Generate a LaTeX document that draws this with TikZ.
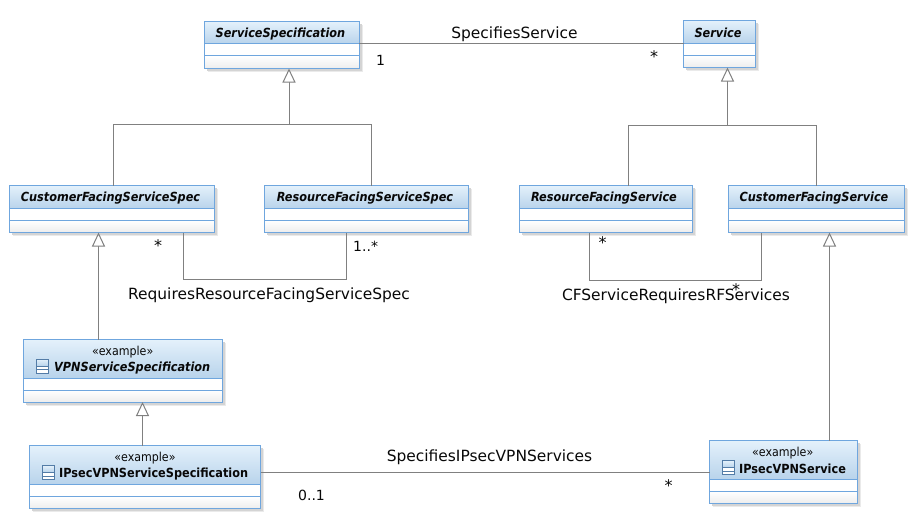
\documentclass[tikz,border=0pt]{standalone}
\usepackage{fontspec}
\setmainfont{DejaVu Sans}
\newfontfamily\condfont{DejaVu Sans Condensed}
\usetikzlibrary{arrows.meta,calc}
\definecolor{umlblue}{HTML}{6FA6DE}
\definecolor{umlhdrtop}{HTML}{E4F1FB}
\definecolor{umlhdrbot}{HTML}{B8D3EB}
\definecolor{umlgrey}{HTML}{808080}
\definecolor{umlshadow}{HTML}{D4D4D4}
\definecolor{umlshadowb}{HTML}{EAEAEA}
\definecolor{umltext}{HTML}{080808}
\tikzset{
  conn/.style={draw=umlgrey,line width=1pt},
  gen/.style={conn,-{Triangle[open,length=14pt,width=13pt,fill=white]}},
  classbox/.style={draw=umlblue,line width=1pt,inner sep=0pt,outer sep=0pt,anchor=north west},
  classname/.style={inner sep=0pt,text=umltext,font=\condfont\fontsize{12.55}{14}\selectfont\bfseries},
  absname/.style={classname,font=\condfont\fontsize{12.55}{14}\selectfont\bfseries\itshape},
  stereo/.style={inner sep=0pt,text=umltext,font=\condfont\fontsize{12.3}{14}\selectfont},
  assoc/.style={inner sep=0pt,text=umltext,font=\fontsize{15.45}{18}\selectfont},
  mult/.style={inner sep=0pt,text=umltext,font=\fontsize{14}{16}\selectfont},
  star/.style={inner sep=0pt,text=umltext,font=\fontsize{16}{18}\selectfont},
}
% id, x1, y1, x2, y2, header bottom
\newcommand{\umlclassbox}[6]{%
  \fill[umlshadowb] (#2+3.5,#3+3.5) rectangle (#4+3.5,#5+3.5);
  \fill[umlshadow] (#2+2.5,#3+2.5) rectangle (#4+2.5,#5+2.5);
  \fill[white] (#2,#3) rectangle (#4,#5);
  \shade[top color=umlhdrtop,bottom color=umlhdrbot] (#2,#3) rectangle (#4,#6);
  \shade[top color=white,bottom color=black!7] (#2,#6+12) rectangle (#4,#5);
  \draw[umlblue,line width=1pt] (#2,#6) -- (#4,#6) (#2,#6+12) -- (#4,#6+12);
  \pgfmathsetmacro{\umlw}{#4-#2}\pgfmathsetmacro{\umlh}{#5-#3}%
  \node[classbox,minimum width=\umlw pt,minimum height=\umlh pt] (#1) at (#2,#3) {};
}
% x, y of top-left
\newcommand{\umlicon}[2]{%
  \fill[white] (#1,#2) rectangle (#1+12,#2+14);
  \shade[top color=umlhdrtop,bottom color=umlhdrbot] (#1,#2) rectangle (#1+12,#2+7);
  \draw[umlblue!75!black,line width=.9pt] (#1,#2) rectangle (#1+12,#2+14) (#1,#2+7) -- (#1+12,#2+7) (#1,#2+10.5) -- (#1+12,#2+10.5);
}
\begin{document}
\begin{tikzpicture}[x=1pt,y=-1pt]
\useasboundingbox (0,0) rectangle (917,527);
\fill[white] (0,0) rectangle (917,527);

\umlclassbox{ss}{204.5}{21.5}{359}{68.5}{44}
\umlclassbox{svc}{683.5}{20.5}{755.5}{67.5}{43.5}
\umlclassbox{cfss}{9.5}{185.5}{214.5}{232.5}{208.5}
\umlclassbox{rfss}{264.5}{185.5}{468.5}{232.5}{208.5}
\umlclassbox{rfsvc}{519.5}{185.5}{692.5}{232.5}{208.5}
\umlclassbox{cfsvc}{728.5}{185.5}{904}{232.5}{208.5}
\umlclassbox{vpnss}{23.5}{339.5}{222.5}{402}{378}
\umlclassbox{ipss}{29.5}{445.5}{260.5}{508.5}{484.5}
\umlclassbox{ipsvc}{709.5}{440.5}{857.5}{503.5}{479.5}

\node[absname] (ssn) at (280.5,34) {ServiceSpecification};
\node[absname] (svcn) at (718,33) {Service};
\node[absname] (cfssn) at (110.5,198) {CustomerFacingServiceSpec};
\node[absname] (rfssn) at (365,198) {ResourceFacingServiceSpec};
\node[absname] (rfsvcn) at (604,198) {ResourceFacingService};
\node[absname] (cfsvcn) at (814,198) {CustomerFacingService};

\node[stereo] (vpnst) at (122.7,352) {«example»};
\umlicon{36.5}{359}
\node[absname,anchor=west] (vpnn) at (54,368) {VPNServiceSpecification};
\node[stereo] (ipst) at (145,458) {«example»};
\umlicon{42.5}{465.5}
\node[classname,anchor=west] (ipn) at (59,474) {IPsecVPNServiceSpecification};
\node[stereo] (ipsst) at (782.7,453) {«example»};
\umlicon{722.5}{460.5}
\node[classname,anchor=west] (ipsn) at (739,469) {IPsecVPNService};

% associations
\coordinate (a1) at (359,43.5);
\draw[conn] (ss.east |- a1) -- (svc.west |- a1);
\coordinate (a2l) at (183.5,279.5);
\coordinate (a2r) at (346.5,279.5);
\draw[conn] (cfss.south -| a2l) -- (a2l) -- (a2r) -- (rfss.south -| a2r);
\coordinate (a3l) at (589.5,280.5);
\coordinate (a3r) at (761.5,280.5);
\draw[conn] (rfsvc.south -| a3l) -- (a3l) -- (a3r) -- (cfsvc.south -| a3r);
\coordinate (a4) at (300,472.5);
\draw[conn] (ipss.east |- a4) -- (ipsvc.west |- a4);

% generalizations
\coordinate (g1) at (289,124.5);
\coordinate (g1l) at (113,124.5);
\coordinate (g1r) at (371,124.5);
\draw[conn] (g1l |- cfss.north) -- (g1l) -- (g1r) -- (g1r |- rfss.north);
\draw[gen] (g1) -- (g1 |- ss.south);
\coordinate (g2) at (727.5,125.5);
\coordinate (g2l) at (628.5,125.5);
\coordinate (g2r) at (816.5,125.5);
\draw[conn] (g2l |- rfsvc.north) -- (g2l) -- (g2r) -- (g2r |- cfsvc.north);
\draw[gen] (g2) -- (g2 |- svc.south);
\coordinate (g3) at (98.5,300);
\draw[gen] (g3 |- vpnss.north) -- (g3 |- cfss.south);
\coordinate (g4) at (142.5,420);
\draw[gen] (g4 |- ipss.north) -- (g4 |- vpnss.south);
\coordinate (g5) at (829.5,300);
\draw[gen] (g5 |- ipsvc.north) -- (g5 |- cfsvc.south);

% labels
\node[assoc] (l1) at (514.5,34) {SpecifiesService};
\node[mult] (m1) at (380.5,60) {1};
\node[star] (m2) at (654,56.5) {*};
\node[assoc] (l2) at (269,295) {RequiresResourceFacingServiceSpec};
\node[star] (m3) at (158,246) {*};
\node[mult,anchor=west] (m4) at (353,246) {1..*};
\node[assoc] (l3) at (676,296) {CFServiceRequiresRFServices};
\node[star] (m5) at (602.5,243) {*};
\node[star] (m6) at (736,290) {*};
\node[assoc] (l4) at (489.5,457) {SpecifiesIPsecVPNServices};
\node[mult] (m7) at (311.5,495) {0..1};
\node[star] (m8) at (668.5,486) {*};
\end{tikzpicture}
\end{document}
